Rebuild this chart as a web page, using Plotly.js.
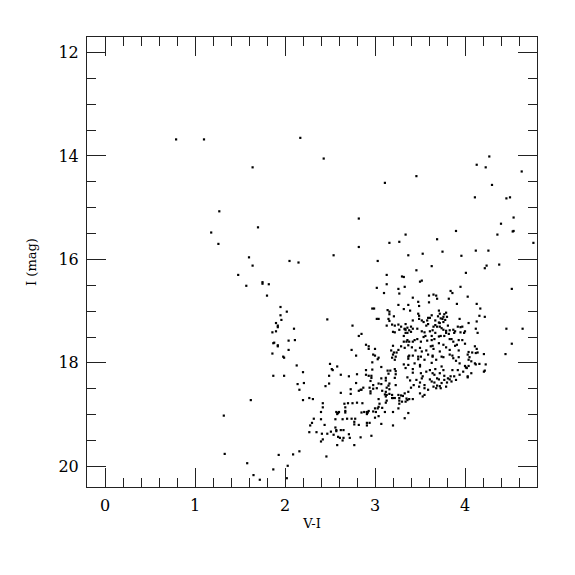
<!DOCTYPE html>
<html>
<head>
<meta charset="utf-8">
<script src="https://cdn.plot.ly/plotly-3.0.1.min.js"></script>
<style>html,body{margin:0;padding:0;background:#fff;}#chart{width:575px;height:575px;}</style>
</head>
<body>
<div id="chart"></div>
<script>
// Colour V-I and magnitude I of each star
const colorVI = [
0.79,1.10,1.64,1.27,1.70,1.18,1.26,1.60,1.64,1.48,1.57,1.75,1.75,1.82,1.80,1.90,1.92,1.90,1.86,1.87,
1.92,1.86,1.87,1.62,1.32,1.33,1.58,1.65,1.72,1.87,1.93,2.02,2.03,2.09,2.16,2.17,2.43,2.82,3.11,3.46,
4.27,4.13,4.23,4.30,4.63,4.11,4.46,4.50,4.54,4.40,2.05,2.15,2.54,2.82,3.03,3.16,3.27,3.34,3.37,3.13,
3.13,3.02,3.10,3.26,3.27,3.30,3.32,3.33,3.26,3.32,3.37,2.97,2.99,3.14,3.16,3.21,3.15,3.16,3.02,3.04,
3.26,3.19,3.22,3.13,3.20,3.22,3.33,3.34,3.32,3.34,3.36,3.38,3.32,3.35,3.38,3.37,2.47,2.75,2.82,2.85,
2.74,2.79,2.90,2.93,3.00,2.93,3.04,3.00,3.18,3.21,3.24,3.23,3.20,3.19,1.95,2.02,1.95,1.96,2.10,2.04,
2.11,2.04,1.98,1.99,1.92,1.88,1.92,2.13,2.20,1.99,2.21,2.14,2.16,2.20,2.27,2.31,2.32,2.30,2.28,2.27,
2.35,2.40,2.40,2.42,2.42,2.45,2.49,2.50,2.52,2.53,2.58,2.49,2.62,2.71,2.80,2.90,2.90,2.93,2.96,2.96,
2.97,3.03,3.07,3.14,3.15,3.17,3.12,3.12,3.22,3.23,3.23,3.22,3.32,3.34,3.37,3.37,3.23,3.16,3.15,3.07,
3.04,3.02,2.94,2.98,2.95,2.95,2.87,2.85,2.82,2.84,2.79,2.73,2.73,2.62,2.70,2.66,2.75,2.80,2.86,2.67,
2.67,2.67,2.57,2.59,2.60,2.58,2.56,2.64,2.69,2.74,2.78,2.77,2.77,2.82,2.85,2.88,2.91,2.92,2.91,2.93,
2.91,2.91,2.94,3.00,3.04,3.00,2.98,3.01,3.03,3.04,3.05,3.04,3.07,3.11,3.08,3.12,3.13,3.12,3.13,3.11,
3.16,3.12,3.13,3.16,3.19,3.20,3.22,3.27,3.27,3.27,3.30,3.34,3.36,3.35,3.33,3.37,3.20,3.33,3.20,3.26,
3.37,3.08,2.44,2.41,2.40,2.42,2.47,2.51,2.57,2.59,2.54,2.57,2.61,2.64,2.65,2.71,2.72,2.65,2.56,2.62,
2.58,2.77,2.84,2.96,2.46,3.69,3.90,4.36,4.53,4.54,4.76,3.53,3.75,3.96,4.12,4.26,3.63,3.46,4.24,4.22,
4.38,4.01,3.52,3.50,3.95,4.52,3.84,3.86,3.60,3.68,3.69,3.82,4.03,3.42,3.48,3.49,3.60,3.91,4.13,4.17,
3.39,3.48,3.49,3.49,3.71,3.72,3.70,3.61,4.16,4.13,3.42,3.34,3.29,3.52,3.58,3.59,3.54,3.59,3.73,3.75,
3.71,3.76,3.67,3.94,4.04,3.92,3.95,4.00,4.12,4.14,4.46,4.64,3.33,3.36,3.42,3.47,3.40,3.52,3.55,3.61,
3.64,3.67,3.56,3.63,3.76,3.79,3.82,3.83,3.77,3.73,3.87,3.88,4.52,3.36,3.44,3.47,3.51,3.54,3.58,3.63,
3.66,3.71,3.83,3.85,3.87,3.93,3.97,4.00,4.11,4.13,3.29,3.41,3.50,3.62,3.64,3.76,3.79,3.89,3.91,3.45,
3.52,3.57,3.65,3.72,3.83,3.93,4.04,4.08,4.12,4.45,3.38,3.48,3.64,3.74,3.86,4.05,4.21,4.14,4.21,4.16,
4.23,4.12,4.07,4.04,4.00,3.98,4.02,4.07,4.03,3.93,3.90,3.94,3.92,3.94,3.86,3.84,3.85,3.80,3.83,3.74,
3.76,3.72,3.77,3.71,3.74,3.66,3.61,3.64,3.67,3.57,3.53,3.51,3.50,3.49,3.46,3.42,3.39,3.36,3.37,3.31,
3.50,3.53,3.55,3.38,3.42,3.42,3.48,3.51,3.59,3.64,3.68,3.76,3.83,3.87,3.63,3.50,3.44,3.55,3.65,3.72,
3.79,3.59,3.55,3.77,3.79,3.76,3.80,3.78,4.22,3.99,3.95,3.97,3.72,3.69,3.74,3.81,3.89,3.79,3.71,4.03,
4.04,4.11,4.22,4.01,4.03,3.88,3.81,3.77,3.90,3.69,3.73,3.65,3.63,3.67,3.57,3.65,3.72,3.40,3.27,3.42,
3.33,3.20,3.26,2.98,2.97,2.95,2.98,3.07,3.19,3.26,3.29,3.40,3.43,3.22,3.42,3.50,3.61,3.66,3.69,3.63,
3.52,3.55,3.68,3.16
];
const magI = [
13.68,13.68,14.22,15.07,15.38,15.48,15.70,15.96,16.12,16.30,16.51,16.44,16.47,16.48,16.70,17.23,17.28,17.39,17.41,17.62,
17.66,17.82,18.25,18.72,19.02,19.76,19.94,20.17,20.26,20.06,19.78,20.23,19.99,19.77,19.71,13.65,14.05,15.21,14.52,14.39,
14.01,14.17,14.22,14.56,14.30,14.80,14.82,14.80,15.19,15.31,16.03,16.06,15.92,15.76,16.03,15.68,15.66,15.52,15.92,16.30,
16.48,16.55,16.65,16.57,16.66,16.33,16.34,16.53,16.88,16.96,16.88,16.95,16.95,16.98,17.06,17.10,17.15,17.19,17.15,17.15,
17.26,17.26,17.28,17.28,17.40,17.41,17.34,17.36,17.48,17.42,17.42,17.37,17.59,17.59,17.59,17.66,17.16,17.28,17.48,17.44,
17.75,17.86,17.65,17.68,17.73,17.73,17.90,17.86,17.76,17.80,17.80,17.88,17.84,17.90,16.92,17.01,17.08,17.17,17.34,17.57,
17.56,17.75,17.88,17.90,17.31,17.61,17.68,18.05,18.18,18.25,18.39,18.41,18.52,18.72,18.68,18.70,19.08,19.16,19.21,19.34,
19.34,19.09,18.95,18.86,18.78,18.45,18.40,18.02,18.12,18.14,18.07,18.25,18.23,18.26,18.22,18.14,18.23,18.25,18.25,18.29,
17.99,17.93,18.08,18.15,18.21,18.15,18.29,18.34,18.12,18.16,18.22,18.29,18.03,18.10,17.92,17.88,18.43,18.40,18.44,18.41,
18.40,18.49,18.48,18.50,18.55,18.59,18.48,18.52,18.54,18.52,18.39,18.51,18.60,18.58,18.78,18.79,18.78,18.77,18.78,18.86,
18.96,18.93,18.95,18.97,18.95,18.99,19.09,19.09,19.08,19.08,19.08,19.14,19.19,19.20,18.96,18.95,18.95,18.96,18.99,18.93,
19.16,19.21,19.16,19.06,19.03,18.88,18.94,18.95,18.88,18.85,18.79,18.70,19.18,18.95,18.87,18.77,18.73,18.65,18.62,18.61,
18.60,18.56,18.48,18.51,18.68,18.68,18.68,18.68,18.73,18.79,18.75,18.75,18.72,18.69,18.59,18.56,18.95,19.07,19.21,18.88,
18.97,18.54,19.20,19.37,19.52,19.48,19.37,19.33,19.30,19.43,19.39,19.32,19.45,19.50,19.45,19.38,19.45,19.30,19.25,19.30,
19.59,19.59,19.44,19.41,19.81,15.61,15.45,15.52,15.46,15.45,15.68,15.89,15.85,15.93,15.83,15.83,16.13,16.21,16.12,16.17,
16.10,16.26,16.41,16.43,16.53,16.57,16.61,16.65,16.70,16.70,16.76,16.76,16.72,16.74,16.82,16.90,16.83,16.86,16.86,16.95,
16.99,17.05,17.09,17.15,16.99,17.05,17.10,17.13,17.09,17.20,17.18,17.25,17.30,17.18,17.18,17.13,17.21,17.25,17.14,17.15,
17.22,17.21,17.27,17.15,17.23,17.30,17.31,17.39,17.34,17.42,17.34,17.34,17.35,17.32,17.34,17.34,17.40,17.39,17.41,17.39,
17.37,17.42,17.48,17.48,17.36,17.38,17.44,17.37,17.48,17.48,17.36,17.42,17.63,17.56,17.56,17.54,17.59,17.50,17.57,17.56,
17.54,17.62,17.54,17.54,17.59,17.56,17.56,17.63,17.68,17.73,17.68,17.70,17.71,17.68,17.67,17.65,17.70,17.67,17.65,17.76,
17.78,17.76,17.73,17.78,17.75,17.76,17.79,17.80,17.81,17.83,17.86,17.88,17.86,17.88,17.86,17.89,18.17,17.80,17.83,18.02,
18.03,18.03,17.97,18.06,18.06,18.17,18.10,18.20,18.26,17.89,17.96,18.01,18.14,18.23,18.14,18.26,18.36,18.38,18.32,18.07,
18.14,18.20,18.25,18.32,18.39,18.38,18.32,18.20,18.12,18.17,18.26,18.20,18.38,18.46,18.33,18.19,18.34,18.28,18.04,18.64,
18.59,18.65,18.62,18.70,18.70,17.86,17.93,17.88,17.84,17.88,17.94,17.89,17.84,17.91,18.00,18.04,18.01,17.94,18.46,18.45,
18.46,18.52,18.49,17.06,17.03,17.11,17.11,17.17,17.11,17.42,17.41,17.30,17.23,17.30,17.33,17.28,17.39,17.42,17.49,17.84,
17.94,18.01,18.15,18.09,18.28,18.26,18.30,18.33,18.33,18.44,18.49,16.68,17.08,17.18,17.28,17.30,17.30,17.30,17.36,17.59,
17.71,17.67,17.75,17.84,18.13,18.35,18.43,18.30,18.62,18.62,18.63,18.48,18.43,17.94,18.12,18.07,18.14,18.23,18.30,18.36,
18.30,18.43,18.49,17.01
];
const xTickVals = [0, 1, 2, 3, 4];
const yTickVals = [12, 14, 16, 18, 20];

const serif = '"DejaVu Serif", "Liberation Serif", serif';

const trace = {
  x: colorVI,
  y: magI,
  type: 'scatter',
  mode: 'markers',
  marker: {symbol: 'square', size: 2.2, color: '#000', line: {width: 0}},
  hoverinfo: 'skip'
};

const axisCommon = {
  showgrid: false,
  zeroline: false,
  showline: true,
  linecolor: '#222',
  linewidth: 1,
  mirror: 'allticks',
  ticks: 'inside',
  ticklen: 19,
  tickwidth: 1,
  tickcolor: '#222',
  tickfont: {family: serif, size: 16, color: '#000'},
};

const layout = {
  width: 575,
  height: 575,
  margin: {l: 87, r: 38, t: 37, b: 88},
  paper_bgcolor: '#fff',
  plot_bgcolor: '#fff',
  showlegend: false,
  xaxis: Object.assign({}, axisCommon, {
    range: [-0.2, 4.8],
    tickvals: xTickVals,
    ticktext: xTickVals.map(String),
    minor: {dtick: 0.2, tick0: 0, ticks: 'inside', ticklen: 9, tickwidth: 1, tickcolor: '#222', showgrid: false},
    ticklabelstandoff: 4,
    title: {text: 'V-I', font: {family: serif, size: 13, color: '#000'}, standoff: 4}
  }),
  yaxis: Object.assign({}, axisCommon, {
    range: [20.4, 11.7],
    tickvals: yTickVals,
    ticktext: yTickVals.map(String),
    minor: {dtick: 0.5, tick0: 12, ticks: 'inside', ticklen: 9, tickwidth: 1, tickcolor: '#222', showgrid: false},
    ticklabelstandoff: 4,
    title: {text: 'I (mag)', font: {family: serif, size: 13, color: '#000'}, standoff: 18}
  })
};

Plotly.newPlot('chart', [trace], layout, {displayModeBar: false, staticPlot: true});
</script>
</body>
</html>
